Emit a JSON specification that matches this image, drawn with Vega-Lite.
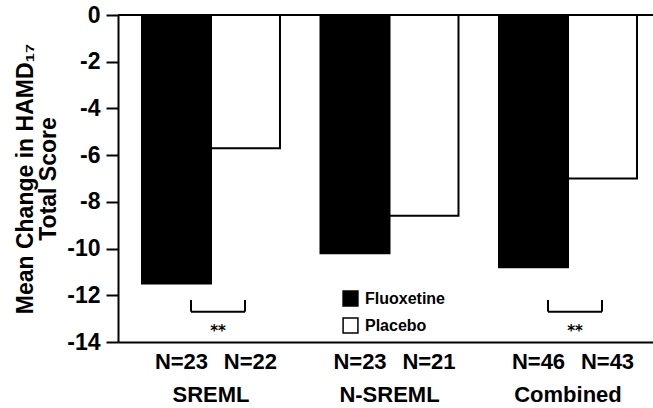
{
  "$schema": "https://vega.github.io/schema/vega-lite/v6.json",
  "width": 535,
  "height": 327,
  "autosize": "none",
  "padding": {"left": 118, "top": 15, "right": 0, "bottom": 66},
  "background": "white",
  "config": {
    "view": {"stroke": null},
    "font": "Liberation Sans"
  },
  "datasets": {
    "bars": [
      {"group": "SREML", "treatment": "Fluoxetine", "value": -11.5, "n": "N=23"},
      {"group": "SREML", "treatment": "Placebo", "value": -5.7, "n": "N=22"},
      {"group": "N-SREML", "treatment": "Fluoxetine", "value": -10.2, "n": "N=23"},
      {"group": "N-SREML", "treatment": "Placebo", "value": -8.6, "n": "N=21"},
      {"group": "Combined", "treatment": "Fluoxetine", "value": -10.8, "n": "N=46"},
      {"group": "Combined", "treatment": "Placebo", "value": -7.0, "n": "N=43"}
    ],
    "sig": [
      {"group": "SREML", "label": "**", "top": -12.2, "bar": -12.7, "star": -13.35},
      {"group": "Combined", "label": "**", "top": -12.2, "bar": -12.7, "star": -13.35}
    ]
  },
  "layer": [
    {
      "data": {"name": "bars"},
      "mark": {"type": "bar", "stroke": "black", "strokeWidth": 2},
      "encoding": {
        "x": {
          "field": "group", "type": "nominal", "sort": ["SREML", "N-SREML", "Combined"],
          "scale": {"paddingInner": 0.227, "paddingOuter": 0.112, "align": 0.6},
          "axis": {
            "title": null, "labelAngle": 0, "ticks": false, "labelPadding": 42,
            "labelFont": "Liberation Sans", "labelFontWeight": "bold", "labelFontSize": 22,
            "labelColor": "black", "domainColor": "black", "domainWidth": 2
          }
        },
        "xOffset": {
          "field": "treatment", "type": "nominal", "sort": ["Fluoxetine", "Placebo"],
          "scale": {"paddingInner": 0, "paddingOuter": 0}
        },
        "y": {
          "field": "value", "type": "quantitative",
          "scale": {"domain": [-14, 0], "nice": false},
          "axis": {
            "values": [0, -2, -4, -6, -8, -10, -12, -14],
            "labelExpr": "'' + datum.value",
            "title": ["Mean Change in HAMD₁₇", "Total Score"],
            "titleFont": "Liberation Sans", "titleFontWeight": "bold", "titleFontSize": 23,
            "titleColor": "black", "titlePadding": 6, "titleLineHeight": 23,
            "labelFont": "Liberation Sans", "labelFontWeight": "bold", "labelFontSize": 23,
            "labelColor": "black", "labelPadding": 6,
            "tickSize": 12, "tickWidth": 2, "tickColor": "black",
            "domainColor": "black", "domainWidth": 2, "grid": false
          }
        },
        "y2": {"datum": 0},
        "fill": {
          "field": "treatment", "type": "nominal",
          "scale": {"domain": ["Fluoxetine", "Placebo"], "range": ["black", "white"]},
          "legend": {
            "title": null, "orient": "none", "legendX": 224, "legendY": 275,
            "symbolType": "square", "symbolSize": 220, "symbolStrokeColor": "black",
            "symbolStrokeWidth": 1.5, "symbolOpacity": 1,
            "labelFont": "Liberation Sans", "labelFontWeight": "bold", "labelFontSize": 16,
            "labelColor": "black", "labelOffset": 6, "rowPadding": 6, "padding": 0
          }
        }
      }
    },
    {
      "data": {"name": "bars"},
      "mark": {"type": "text", "font": "Liberation Sans", "fontWeight": "bold", "fontSize": 22, "baseline": "middle", "dy": 20, "dx": 5, "color": "black", "clip": false},
      "encoding": {
        "x": {"field": "group", "type": "nominal", "sort": ["SREML", "N-SREML", "Combined"]},
        "xOffset": {"field": "treatment", "type": "nominal", "sort": ["Fluoxetine", "Placebo"]},
        "y": {"datum": -14},
        "text": {"field": "n"}
      }
    },
    {
      "data": {"name": "bars"},
      "mark": {"type": "rule", "color": "black", "strokeWidth": 2},
      "encoding": {"y": {"datum": 0}}
    },
    {
      "data": {"name": "sig"},
      "mark": {"type": "rule", "color": "black", "strokeWidth": 2, "xOffset": -20, "x2Offset": 34},
      "encoding": {
        "x": {"field": "group", "type": "nominal", "sort": ["SREML", "N-SREML", "Combined"], "bandPosition": 0.5},
        "x2": {"field": "group", "bandPosition": 0.5},
        "y": {"field": "bar", "type": "quantitative"}
      }
    },
    {
      "data": {"name": "sig"},
      "mark": {"type": "rule", "color": "black", "strokeWidth": 2, "xOffset": -20},
      "encoding": {
        "x": {"field": "group", "type": "nominal", "sort": ["SREML", "N-SREML", "Combined"], "bandPosition": 0.5},
        "y": {"field": "top", "type": "quantitative"},
        "y2": {"field": "bar"}
      }
    },
    {
      "data": {"name": "sig"},
      "mark": {"type": "rule", "color": "black", "strokeWidth": 2, "xOffset": 34},
      "encoding": {
        "x": {"field": "group", "type": "nominal", "sort": ["SREML", "N-SREML", "Combined"], "bandPosition": 0.5},
        "y": {"field": "top", "type": "quantitative"},
        "y2": {"field": "bar"}
      }
    },
    {
      "data": {"name": "sig"},
      "mark": {"type": "text", "font": "DejaVu Sans", "fontWeight": "bold", "fontSize": 15, "baseline": "middle", "dx": 7, "dy": 4, "color": "black"},
      "encoding": {
        "x": {"field": "group", "type": "nominal", "sort": ["SREML", "N-SREML", "Combined"], "bandPosition": 0.5},
        "y": {"field": "star", "type": "quantitative"},
        "text": {"field": "label"}
      }
    }
  ]
}
